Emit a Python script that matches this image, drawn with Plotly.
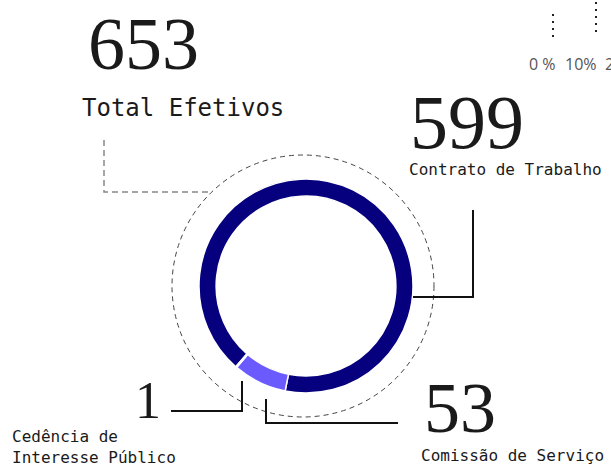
import plotly.graph_objects as go

W, H = 611, 467

# ---- data ----
categories = ["Contrato de Trabalho", "Comissão de Serviço", "Cedência de Interesse Público"]
values = [599, 53, 1]
total_label = "Total Efetivos"
axis_ticks = ["0 %", "10%", "20%"]

colors = ["#07007e", "#6b5bff", "#b9b2ff"]

def px(x):
    return x / W

def py(y):
    return 1 - y / H

fig = go.Figure()
fig.add_trace(go.Pie(
    values=values,
    labels=categories,
    sort=False,
    direction="clockwise",
    rotation=221,
    hole=0.84,
    marker=dict(colors=colors, line=dict(color="white", width=1.5)),
    textinfo="none",
    hoverinfo="label+value",
    showlegend=False,
    domain=dict(x=[px(199), px(413)], y=[py(393), py(179)]),
))

shapes = []
# dashed outer circle
shapes.append(dict(type="circle", xref="paper", yref="paper",
                   x0=px(172), x1=px(434), y0=py(417), y1=py(155),
                   line=dict(color="#444", width=1, dash="5px,4px")))
# total leader (dashed grey)
shapes.append(dict(type="path", xref="paper", yref="paper",
                   path=f"M {px(104)} {py(140)} L {px(104)} {py(192)} L {px(210)} {py(192)}",
                   line=dict(color="#888", width=1.5, dash="6px,4px")))
# 599 leader
shapes.append(dict(type="path", xref="paper", yref="paper",
                   path=f"M {px(473)} {py(210)} L {px(473)} {py(297)} L {px(413)} {py(297)}",
                   line=dict(color="#111", width=2)))
# 1 leader
shapes.append(dict(type="path", xref="paper", yref="paper",
                   path=f"M {px(171)} {py(411)} L {px(242)} {py(411)} L {px(242)} {py(381)}",
                   line=dict(color="#111", width=2)))
# 53 leader
shapes.append(dict(type="path", xref="paper", yref="paper",
                   path=f"M {px(266)} {py(399)} L {px(266)} {py(423)} L {px(398)} {py(423)}",
                   line=dict(color="#111", width=2)))
# dotted ticks top right (partial neighbouring chart)
shapes.append(dict(type="line", xref="paper", yref="paper",
                   x0=px(553), x1=px(553), y0=py(14), y1=py(38),
                   line=dict(color="#222", width=2, dash="2px,5px")))
shapes.append(dict(type="line", xref="paper", yref="paper",
                   x0=px(596), x1=px(596), y0=py(2), y1=py(35),
                   line=dict(color="#222", width=2, dash="2px,5px")))

serif = "Liberation Serif"
mono = "DejaVu Sans Mono"
ann = []
def add(text, x, y, size, family, color="#1a1a1a", xanchor="left", align="left"):
    ann.append(dict(text=text, x=px(x), y=py(y), xref="paper", yref="paper",
                    xanchor=xanchor, yanchor="middle", showarrow=False, align=align,
                    font=dict(size=size, family=family, color=color)))

add(str(sum(values)), 86, 44, 74, serif)
add(total_label, 80, 108, 24, mono)
add(str(values[0]), 408, 122, 76, serif)
add(categories[0], 407, 169, 16, mono)
add(str(values[1]), 422, 408, 72, serif)
add(categories[1], 419, 455, 16, mono)
add(str(values[2]), 133, 400, 52, serif)
add("Cedência de<br>Interesse Público", 10, 447, 16, mono)
add(axis_ticks[0], 527, 64, 16, "Open Sans", color="#555")
add(axis_ticks[1], 563, 64, 16, "Open Sans", color="#555")
add(axis_ticks[2], 603, 64, 16, "Open Sans", color="#555")

fig.update_layout(width=W, height=H, margin=dict(l=0, r=0, t=0, b=0),
                  paper_bgcolor="white", plot_bgcolor="white",
                  shapes=shapes, annotations=ann)

fig.write_html("out.html", config={"displayModeBar": False},
               post_script="document.body.style.margin='0';document.body.style.overflow='hidden';")
